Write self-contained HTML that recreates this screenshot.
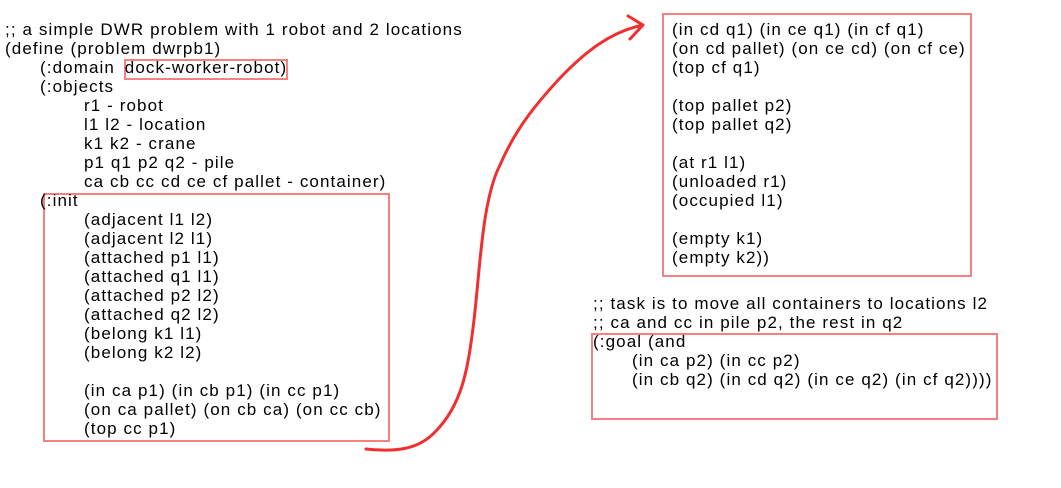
<!DOCTYPE html>
<html><head><style>
body{margin:0;width:1061px;height:488px;background:#fff;position:relative;overflow:hidden;font-family:"Liberation Sans",Arial,sans-serif;font-size:17px;letter-spacing:1.1px;color:#000}
.t{position:absolute;white-space:pre;line-height:19px}
.b{position:absolute;border:2px solid #f48080;box-sizing:border-box}
</style></head><body>
<div class="b" style="left:124px;top:59px;width:164px;height:21px"></div>
<div class="b" style="left:43px;top:193px;width:347px;height:249px"></div>
<div class="b" style="left:662px;top:13px;width:310px;height:264px"></div>
<div class="b" style="left:591px;top:333px;width:407px;height:87px"></div>

<div class="t" style="left:5px;top:20px">;; a simple DWR problem with 1 robot and 2 locations
(define (problem dwrpb1)</div>
<div class="t" style="left:40px;top:58px">(:domain <span style="margin-left:4px">dock-worker-robot)</span>
(:objects</div>
<div class="t" style="left:84px;top:96px">r1 - robot
l1 l2 - location
k1 k2 - crane
p1 q1 p2 q2 - pile
ca cb cc cd ce cf pallet - container)</div>
<div class="t" style="left:40px;top:191px">(:init</div>
<div class="t" style="left:84px;top:210px">(adjacent l1 l2)
(adjacent l2 l1)
(attached p1 l1)
(attached q1 l1)
(attached p2 l2)
(attached q2 l2)
(belong k1 l1)
(belong k2 l2)

(in ca p1) (in cb p1) (in cc p1)
(on ca pallet) (on cb ca) (on cc cb)
(top cc p1)</div>

<div class="t" style="left:672px;top:20px">(in cd q1) (in ce q1) (in cf q1)
(on cd pallet) (on ce cd) (on cf ce)
(top cf q1)

(top pallet p2)
(top pallet q2)

(at r1 l1)
(unloaded r1)
(occupied l1)

(empty k1)
(empty k2))</div>

<div class="t" style="left:593px;top:294px">;; task is to move all containers to locations l2
;; ca and cc in pile p2, the rest in q2
(:goal (and</div>
<div class="t" style="left:632px;top:351px">(in ca p2) (in cc p2)
(in cb q2) (in cd q2) (in ce q2) (in cf q2))))</div>

<svg style="position:absolute;left:0;top:0" width="1061" height="488">
<path d="M366,449 C395,452 418,450 435,432 C462,405 468,370 474,320 C480,270 482,200 500,165 C515,130 535,105 560,78 C585,52 610,32 643,25" fill="none" stroke="#f03030" stroke-width="3" stroke-linecap="round"/>
<path d="M628,16 L643,25 L630,39" fill="none" stroke="#f03030" stroke-width="3" stroke-linecap="round" stroke-linejoin="round"/>
</svg>
</body></html>
